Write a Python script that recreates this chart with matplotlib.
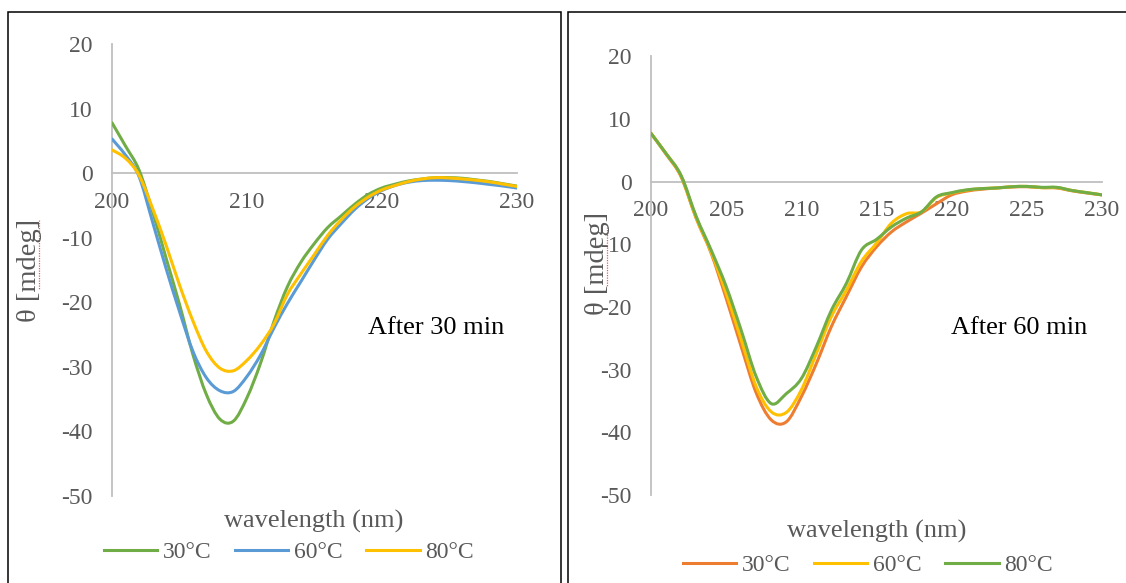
import matplotlib.pyplot as plt
from matplotlib.path import Path
from matplotlib.patches import PathPatch, Rectangle
from matplotlib.lines import Line2D

plt.rcParams['font.family'] = ['Liberation Serif', 'DejaVu Serif']
plt.rcParams['axes.unicode_minus'] = False

# wavelength (nm), 1 nm steps
wavelength = list(range(200, 231))

# After 30 min
min30_30C = [7.8, 4.2, 0.5, -5.9, -13.1, -20.3, -28.1, -34.3, -38.1, -38.4, -34.8,
             -29.5, -23.0, -17.6, -13.8, -10.9, -8.4, -6.6, -4.8, -3.3, -2.3,
             -1.7, -1.2, -0.9, -0.7, -0.7, -0.8, -1.05, -1.3, -1.65, -2.0]
min30_60C = [5.3, 2.8, -0.5, -7.5, -14.7, -21.4, -27.6, -31.7, -33.7, -33.8, -31.5,
             -28.2, -24.0, -20.2, -16.8, -13.4, -10.2, -7.8, -5.6, -3.9, -2.7,
             -1.9, -1.4, -1.15, -1.1, -1.15, -1.3, -1.5, -1.75, -2.0, -2.3]
min30_80C = [3.6, 2.3, -0.3, -5.4, -11.1, -17.3, -22.9, -27.6, -30.2, -30.6, -29.0,
             -26.6, -23.4, -18.8, -15.6, -12.6, -9.6, -7.2, -5.2, -3.7, -2.6,
             -1.9, -1.3, -0.9, -0.7, -0.75, -0.9, -1.1, -1.35, -1.7, -2.05]

# After 60 min
min60_30C = [7.7, 4.4, 0.8, -5.8, -11.4, -18.6, -26.3, -33.7, -38.0, -38.3, -34.3,
             -29.0, -23.1, -18.3, -13.6, -10.4, -8.0, -6.4, -5.0, -3.5, -2.1,
             -1.5, -1.2, -1.0, -0.85, -0.8, -0.95, -1.0, -1.45, -1.8, -2.1]
min60_60C = [7.7, 4.5, 0.9, -5.7, -11.2, -17.8, -25.2, -32.7, -36.7, -36.8, -33.2,
             -27.4, -21.5, -17.3, -12.7, -9.8, -6.6, -5.1, -4.8, -2.5, -1.8,
             -1.35, -1.1, -1.0, -0.8, -0.75, -0.95, -0.95, -1.4, -1.75, -2.1]
min60_80C = [7.7, 4.5, 1.0, -5.5, -10.9, -16.7, -23.7, -31.1, -35.4, -33.8, -31.4,
             -26.3, -20.5, -16.2, -10.9, -9.2, -7.2, -5.8, -4.8, -2.4, -1.75,
             -1.3, -1.1, -1.0, -0.8, -0.75, -0.9, -0.9, -1.4, -1.75, -2.1]

labels = ["30°C", "60°C", "80°C"]

GREEN = "#70AD47"
BLUE = "#5B9BD5"
YELLOW = "#FFC000"
ORANGE = "#ED7D31"
GRAY_TXT = "#595959"
GRAY_AX = "#BFBFBF"

W, H = 1126, 583


def smooth_path(x, y):
    # Excel-like smoothed line (Catmull-Rom as cubic Bezier)
    n = len(x)
    verts = [(x[0], y[0])]
    codes = [Path.MOVETO]
    for i in range(n - 1):
        xa, ya = (x[i - 1], y[i - 1]) if i > 0 else (x[i], y[i])
        xb, yb = (x[i + 2], y[i + 2]) if i + 2 < n else (x[i + 1], y[i + 1])
        c1 = (x[i] + (x[i + 1] - xa) / 6, y[i] + (y[i + 1] - ya) / 6)
        c2 = (x[i + 1] - (xb - x[i]) / 6, y[i + 1] - (yb - y[i]) / 6)
        verts += [c1, c2, (x[i + 1], y[i + 1])]
        codes += [Path.CURVE4] * 3
    return Path(verts, codes)


def px_axes(x0, x1, ytop, ybot):
    return [x0 / W, (H - ybot) / H, (x1 - x0) / W, (ybot - ytop) / H]


def setup(ax, xticks):
    ax.set_xlim(200, 230)
    ax.set_ylim(-50, 20)
    ax.set_xticks(xticks)
    ax.set_yticks(range(-50, 21, 10))
    for s in ["top", "right"]:
        ax.spines[s].set_visible(False)
    ax.spines["bottom"].set_position(("data", 0))
    ax.spines["bottom"].set_color(GRAY_AX)
    ax.spines["bottom"].set_linewidth(1.3)
    ax.spines["left"].set_color(GRAY_AX)
    ax.spines["left"].set_linewidth(1.3)
    ax.tick_params(axis="both", length=0, labelsize=17, labelcolor=GRAY_TXT)
    ax.tick_params(axis="y", pad=14)
    ax.tick_params(axis="x", pad=13.5)
    ax.patch.set_alpha(0)


fig = plt.figure(figsize=(W / 100, H / 100), dpi=100)

# panel frames
fig.add_artist(Rectangle((8 / W, -0.05), (561 - 8) / W, 1.05 - 12.5 / H,
                         transform=fig.transFigure, fill=False, ec="black", lw=1.1))
fig.add_artist(Rectangle((568 / W, -0.05), 0.6, 1.05 - 12.5 / H,
                         transform=fig.transFigure, fill=False, ec="black", lw=1.1))

panels = [
    dict(pos=px_axes(112, 516.7, 44, 496), xticks=[200, 210, 220, 230],
         series=[min30_30C, min30_60C, min30_80C], colors=[GREEN, BLUE, YELLOW],
         note="After 30 min", note_xy=(368, 328), ylab_xy=(30, 270), squiggle=(39, 220, 290),
         xlab_xy=(314, 521), leg_xy=(289, 552)),
    dict(pos=px_axes(651, 1102, 56.3, 495.2), xticks=[200, 205, 210, 215, 220, 225, 230],
         series=[min60_30C, min60_60C, min60_80C], colors=[ORANGE, YELLOW, GREEN],
         note="After 60 min", note_xy=(951, 328), ylab_xy=(598, 263), squiggle=(607, 227, 287),
         xlab_xy=(877, 531), leg_xy=(868, 565)),
]

for p in panels:
    ax = fig.add_axes(p["pos"])
    setup(ax, p["xticks"])
    handles = []
    for vals, c in zip(p["series"], p["colors"]):
        ax.add_patch(PathPatch(smooth_path(wavelength, vals), fill=False, edgecolor=c,
                               lw=2.2, capstyle="round", joinstyle="round", zorder=3))
        handles.append(Line2D([], [], color=c, lw=2.2))
    fig.text(p["note_xy"][0] / W, 1 - p["note_xy"][1] / H, p["note"],
             fontsize=19, color="black", ha="left", va="center")
    fig.text(p["ylab_xy"][0] / W, 1 - p["ylab_xy"][1] / H, "θ [mdeg]",
             fontsize=20.5, color=GRAY_TXT, rotation=90, ha="center", va="center")
    # spell-check squiggle under "mdeg"
    sx, sy0, sy1 = p["squiggle"]
    fig.add_artist(Line2D([sx / W, sx / W], [1 - sy0 / H, 1 - sy1 / H],
                          transform=fig.transFigure, color="#E06060", lw=0.9,
                          linestyle=(0, (1, 1))))
    fig.text(p["xlab_xy"][0] / W, 1 - p["xlab_xy"][1] / H, "wavelength (nm)",
             fontsize=19, color=GRAY_TXT, ha="center", va="center")
    fig.legend(handles, labels, loc="center",
               bbox_to_anchor=(p["leg_xy"][0] / W, 1 - p["leg_xy"][1] / H),
               ncol=3, frameon=False, fontsize=17, labelcolor=GRAY_TXT,
               handlelength=2.25, handletextpad=0.25, columnspacing=1.0,
               borderpad=0, borderaxespad=0)

fig.savefig("out.png", dpi=100)
